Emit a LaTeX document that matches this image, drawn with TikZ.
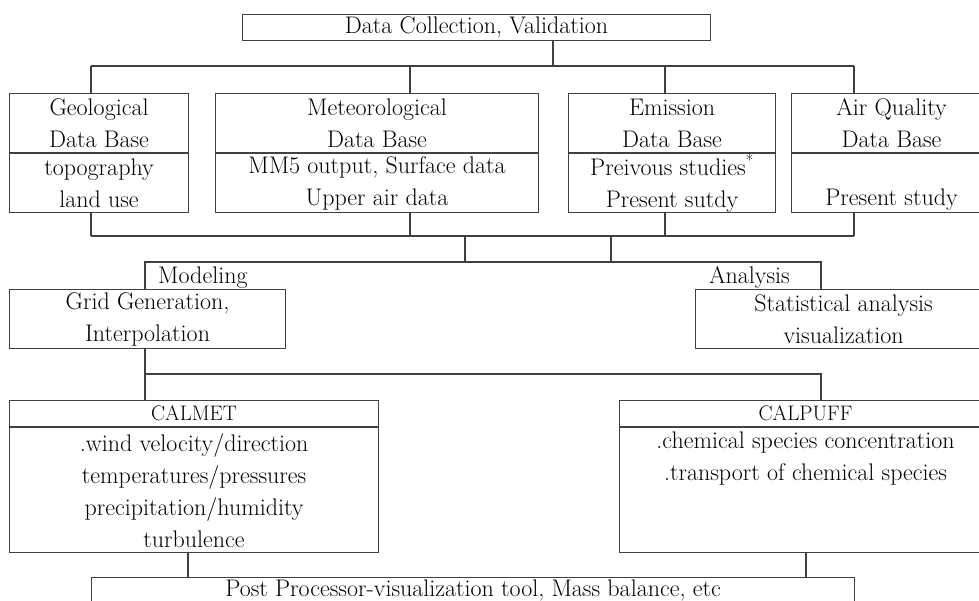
\documentclass[tikz,border=0pt]{standalone}
\usepackage{tikz}
\usetikzlibrary{positioning}

\begin{document}
\begin{tikzpicture}[
        x=1pt, y=-1pt,
        font=\fontsize{24}{32}\selectfont,
        line/.style   = {draw=black!75, line width=1.1pt},
        basic/.style  = {line, rectangle, inner sep=0pt, align=center, anchor=north west},
        title/.style  = {basic, minimum height=26pt},
        half/.style   = {basic, minimum height=59pt},
        body/.style   = {basic, minimum height=125pt},
        label/.style  = {inner sep=0pt},
        smallcaps/.style = {font=\fontsize{21}{32}\selectfont}]

        \useasboundingbox (0,0) rectangle (979,600);

        % top of the chart
        \node[title, minimum width=468pt] (dc) at (242,14) {Data Collection, Validation};

        % the four data bases, heads and bodies
        \node[half, minimum width=179pt] (geo) at (9,93)   {Geological\\Data Base};
        \node[half, minimum width=323pt] (met) at (215,93) {Meteorological\\Data Base};
        \node[half, minimum width=207pt] (emi) at (568,93) {Emission\\Data Base};
        \node[half, minimum width=200pt] (aq)  at (791,93) {Air Quality\\Data Base};

        \begin{scope}[every node/.style={half, anchor=north}]
            \node [below=0pt of geo, minimum width=179pt] (geo-b) {topography\\land use};
            \node [below=0pt of met, minimum width=323pt] (met-b) {MM5 output, Surface data\\Upper air data};
            \node [below=0pt of emi, minimum width=207pt] (emi-b) {Preivous studies\textsuperscript{*}\\Present sutdy};
            \node [below=0pt of aq,  minimum width=200pt] (aq-b)  {\vphantom{Ag}\\Present study};
        \end{scope}

        % modeling and analysis
        \node[label, anchor=base west] (modeling) at (158,283) {Modeling};
        \node[label, anchor=base east] (analysis) at (790,283) {Analysis};
        \node[half, minimum width=276pt] (grid) at (9,289)   {Grid Generation,\\Interpolation};
        \node[half, minimum width=296pt] (stat) at (695,289) {Statistical analysis\\visualization};

        % the two models
        \node[title, smallcaps, minimum width=369pt] (calmet)  at (9,400)   {CALMET};
        \node[title, smallcaps, minimum width=372pt] (calpuff) at (619,400) {CALPUFF};
        \begin{scope}[every node/.style={body, anchor=north}]
            \node [below=0pt of calmet, minimum width=369pt] (calmet-b)
                {.wind velocity/direction\\temperatures/pressures\\precipitation/humidity\\turbulence};
            \node [below=0pt of calpuff, minimum width=372pt] (calpuff-b)
                {.chemical species concentration\\.transport of chemical species\\\vphantom{Ag}\\\vphantom{Ag}};
        \end{scope}

        \node[title, minimum width=763pt] (post) at (91,577) {Post Processor-visualization tool, Mass balance, etc};

        % points where the lines meet
        \coordinate (top) at (553,66);
        \coordinate (tgeo) at (91,66);
        \coordinate (tmet) at (410,66);
        \coordinate (temi) at (665,66);
        \coordinate (taq)  at (854,66);
        \coordinate (bus)  at (0,236);
        \coordinate (d1) at (465,236);
        \coordinate (d2) at (611,236);
        \coordinate (m) at (145,262);
        \coordinate (a) at (821,262);
        \coordinate (c) at (145,374);
        \coordinate (p) at (821,374);
        \coordinate (e1) at (188,577);
        \coordinate (e2) at (806,577);

        \begin{scope}[every path/.style={line}]
        % lines from the top box to every data base
        \draw (dc.south -| top) -- (top);
        \draw (tgeo) -- (taq);
        \foreach \b in {geo,met,emi,aq}
        \draw (t\b) -- (t\b |- \b.north);

        % lines from the data bases down to modeling and analysis
        \foreach \b in {geo,met,emi,aq}
        \draw (t\b |- \b-b.south) -- (t\b |- bus);
        \draw (tgeo |- bus) -- (taq |- bus);
        \foreach \d in {d1,d2}
        \draw (\d) -- (\d |- m);
        \draw (grid.north -| m) |- (a) -- (a |- stat.north);

        % lines to the models and to the post processor
        \draw (grid.south -| c) -- (calmet.north -| c);
        \draw (c) -- (p) -- (calpuff.north -| p);
        \draw (calmet-b.south -| e1) -- (e1);
        \draw (calpuff-b.south -| e2) -- (e2);
        \end{scope}

    \end{tikzpicture}
\end{document}
